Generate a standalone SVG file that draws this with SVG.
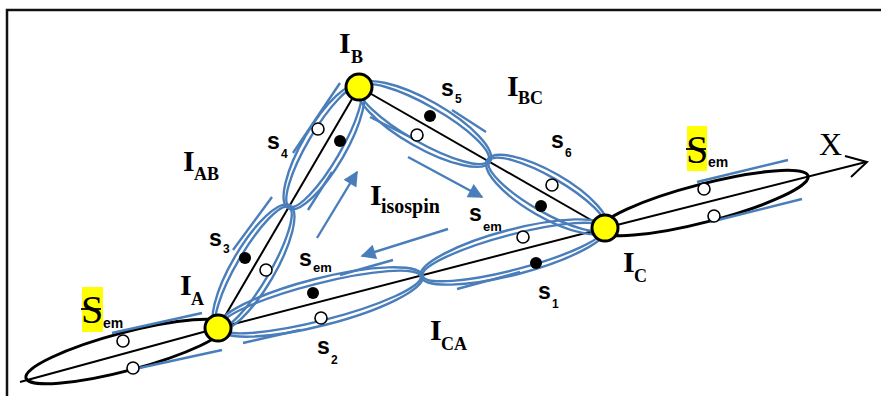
<svg xmlns="http://www.w3.org/2000/svg" width="881" height="396" viewBox="0 0 881 396">
<defs>
<style>
.bl{fill:none;stroke:#4a7ebb;stroke-width:2.4}
.blk{fill:none;stroke:#000;stroke-width:2}
.blkE{fill:none;stroke:#000;stroke-width:3}
.node{fill:#ffff00;stroke:#000;stroke-width:3}
.od{fill:#fff;stroke:#000;stroke-width:1.6}
.fd{fill:#000}
.ti{font-family:"Liberation Serif",serif;font-weight:bold;font-size:30px;fill:#000}
.ts{font-family:"Liberation Serif",serif;font-weight:bold;font-size:18px;fill:#000}
.ss{font-family:"Liberation Sans",sans-serif;font-weight:bold;font-size:23px;fill:#000}
.sd{font-family:"Liberation Sans",sans-serif;font-weight:bold;font-size:12px;fill:#000}
.se{font-family:"Liberation Sans",sans-serif;font-weight:bold;font-size:13px;fill:#000}
.hs{font-family:"Liberation Serif",serif;font-size:40px;fill:#000}
.he{font-family:"Liberation Sans",sans-serif;font-weight:bold;font-size:14px;fill:#000}
</style>
<marker id="ah" viewBox="0 0 10 10" refX="9" refY="5" markerWidth="20" markerHeight="15" markerUnits="userSpaceOnUse" orient="auto">
<path d="M0,0 L10,5 L0,10 z" fill="#4a7ebb"/>
</marker>
</defs>
<rect x="0" y="0" width="881" height="396" fill="#fff"/>
<path d="M7,396 V10 H881" fill="none" stroke="#111" stroke-width="2.5"/>

<g id="axes">
<polyline class="blk" points="20,382 218,328 605,228 866,162"/>
<line class="blk" x1="218" y1="328" x2="359" y2="87"/>
<line class="blk" x1="359" y1="87" x2="605" y2="228"/>
<polyline class="blk" points="845,156 867,162 851,177" stroke-width="2.5"/>
</g>

<g id="sem-left">
<ellipse class="blkE" cx="126" cy="351.5" rx="103.5" ry="19" transform="rotate(-14.84 126 351.5)"/>
<line class="bl" x1="112" y1="333" x2="202" y2="313"/>
<line class="bl" x1="130" y1="370" x2="222" y2="350"/>
<circle class="od" cx="123" cy="341" r="6"/>
<circle class="od" cx="133" cy="368" r="6"/>
</g>
<g id="sem-right">
<ellipse class="blkE" cx="704" cy="203" rx="107.5" ry="19" transform="rotate(-14.55 704 203)"/>
<line class="bl" x1="697" y1="182" x2="788" y2="160"/>
<line class="bl" x1="710" y1="222" x2="802" y2="199"/>
<circle class="od" cx="704" cy="189" r="6"/>
<circle class="od" cx="714" cy="216" r="6"/>
</g>

<g id="s3">
<ellipse class="bl" cx="253.5" cy="267.5" rx="72" ry="21.5" transform="rotate(-59.6 253.5 267.5)"/>
<ellipse class="bl" cx="253.5" cy="267.5" rx="70" ry="16.5" transform="rotate(-59.6 253.5 267.5)"/>
<circle class="fd" cx="245" cy="258" r="6"/>
<circle class="od" cx="266" cy="270" r="6"/>
</g>
<g id="s4">
<ellipse class="bl" cx="324" cy="147" rx="71" ry="21.5" transform="rotate(-59.7 324 147)"/>
<ellipse class="bl" cx="324" cy="147" rx="69" ry="16.5" transform="rotate(-59.7 324 147)"/>
<circle class="od" cx="318" cy="129" r="6"/>
<circle class="fd" cx="340" cy="141" r="6"/>
</g>
<g id="s5">
<ellipse class="bl" cx="424" cy="124" rx="76" ry="23.5" transform="rotate(29.65 424 124)"/>
<ellipse class="bl" cx="424" cy="124" rx="74" ry="18.5" transform="rotate(29.65 424 124)"/>
<circle class="fd" cx="430" cy="116" r="6"/>
<circle class="od" cx="417" cy="135" r="6"/>
</g>
<g id="s6">
<ellipse class="bl" cx="547" cy="194.5" rx="69" ry="22.5" transform="rotate(30 547 194.5)"/>
<ellipse class="bl" cx="547" cy="194.5" rx="67" ry="17.5" transform="rotate(30 547 194.5)"/>
<circle class="od" cx="552" cy="185" r="6"/>
<circle class="fd" cx="541" cy="206" r="6"/>
</g>
<g id="s1">
<ellipse class="bl" cx="513.5" cy="252" rx="96" ry="22.5" transform="rotate(-14.7 513.5 252)"/>
<ellipse class="bl" cx="513.5" cy="252" rx="94" ry="17.5" transform="rotate(-14.7 513.5 252)"/>
<circle class="od" cx="523" cy="237" r="6"/>
<circle class="fd" cx="536" cy="263" r="6"/>
</g>
<g id="s2">
<ellipse class="bl" cx="320" cy="302" rx="106" ry="23.5" transform="rotate(-14.3 320 302)"/>
<ellipse class="bl" cx="320" cy="302" rx="104" ry="18.5" transform="rotate(-14.3 320 302)"/>
<circle class="fd" cx="313" cy="293" r="6"/>
<circle class="od" cx="321" cy="318" r="6"/>
</g>

<g id="connectors">
<line class="bl" x1="293" y1="153" x2="340" y2="83"/>
<line class="bl" x1="308" y1="210" x2="332" y2="172"/>
<line class="bl" x1="233" y1="250" x2="272" y2="197"/>
<line class="bl" x1="370" y1="117" x2="410" y2="137"/>
<line class="bl" x1="452" y1="110" x2="486" y2="132"/>
<line class="bl" x1="457" y1="289" x2="520" y2="272"/>
<line class="bl" x1="340" y1="275" x2="393" y2="260"/>
<line class="bl" x1="243" y1="343" x2="300" y2="330"/>
<line class="bl" x1="317" y1="238" x2="357" y2="172" marker-end="url(#ah)"/>
<line class="bl" x1="408" y1="157" x2="482" y2="197" marker-end="url(#ah)"/>
<line class="bl" x1="448" y1="229" x2="362" y2="256" marker-end="url(#ah)"/>
</g>

<g id="IA"><circle class="node" cx="218" cy="328" r="13"/></g>
<g id="IB"><circle class="node" cx="359" cy="87" r="13"/></g>
<g id="IC"><circle class="node" cx="605" cy="228" r="13"/></g>

<g id="labels">
<text class="ti" x="339" y="53">I</text><text class="ts" x="351" y="63">B</text>
<text class="ti" x="507" y="96">I</text><text class="ts" x="518" y="104">BC</text>
<text class="ti" x="183" y="171">I</text><text class="ts" x="194" y="180">AB</text>
<text class="ti" x="180" y="295">I</text><text class="ts" x="191" y="305">A</text>
<text class="ti" x="623" y="272">I</text><text class="ts" x="634" y="282">C</text>
<text class="ti" x="430" y="340">I</text><text class="ts" x="441" y="350">CA</text>
<text class="ti" x="370" y="205">I</text><text class="ts" x="381" y="213" style="font-size:20px">isospin</text>
<text x="819" y="155" style="font-family:'Liberation Serif',serif;font-size:32px">X</text>

<text class="ss" x="441" y="96">s</text><text class="sd" x="455" y="103">5</text>
<text class="ss" x="551" y="148">s</text><text class="sd" x="565" y="157">6</text>
<text class="ss" x="267" y="149">s</text><text class="sd" x="281" y="158">4</text>
<text class="ss" x="209" y="246">s</text><text class="sd" x="223" y="253">3</text>
<text class="ss" x="299" y="266">s</text><text class="se" x="313" y="272">em</text>
<text class="ss" x="469" y="221">s</text><text class="se" x="483" y="231">em</text>
<text class="ss" x="538" y="299">s</text><text class="sd" x="552" y="308">1</text>
<text class="ss" x="317" y="354">s</text><text class="sd" x="331" y="364">2</text>
</g>

<g id="sem-label-left">
<rect x="82" y="287" width="21" height="45" fill="#ffff00"/>
<text class="hs" x="81" y="323">S</text>
<line x1="81" y1="309" x2="101" y2="309" stroke="#000" stroke-width="1.8"/>
<text class="he" x="103" y="328">em</text>
</g>
<g id="sem-label-right">
<rect x="687" y="126" width="20" height="45" fill="#ffff00"/>
<text class="hs" x="686" y="163">S</text>
<line x1="686" y1="149" x2="706" y2="149" stroke="#000" stroke-width="1.8"/>
<text class="he" x="708" y="167">em</text>
</g>
</svg>
